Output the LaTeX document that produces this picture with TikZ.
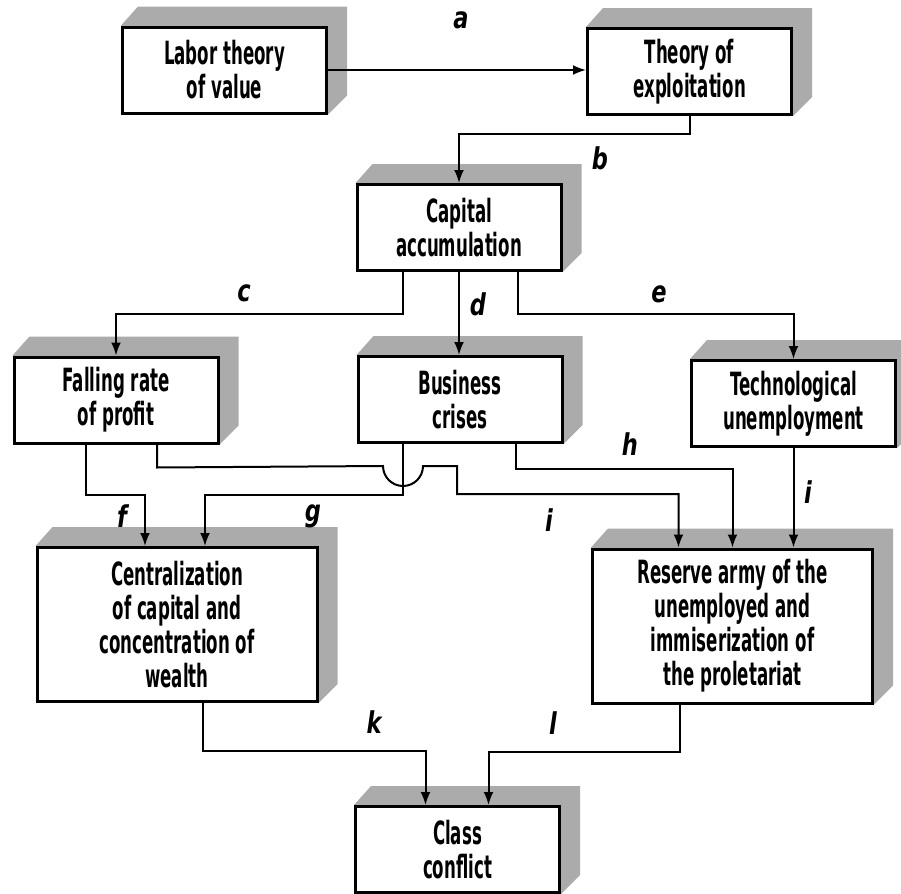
\documentclass[tikz,border=0pt]{standalone}
\usepackage{fontspec}
\newfontfamily\boxfont{DejaVu Sans}[FakeStretch=0.52]
\newfontfamily\labfont{DejaVu Sans}[FakeStretch=0.75]
\usetikzlibrary{backgrounds,arrows.meta}

\begin{document}
\begin{tikzpicture}[x=0.5pt,y=-0.5pt]

      \tikzset{box/.style={draw, rectangle, fill=white, line width=1.5pt, minimum width=102pt, minimum height=43pt, inner sep=2pt, align=center, font=\boxfont\bfseries\fontsize{16}{17}\selectfont},
               bigbox/.style={box, minimum width=140pt, minimum height=77pt},
               slab/.style={fill=black!33},
               arr/.style={->, >={Latex[length=6.5pt,width=5pt]}, line width=1pt},
               lab/.style={font=\labfont\bfseries\itshape\fontsize{15}{15}\selectfont}}
      \clip (0,0) rectangle (901,894);
%% Boxes
      	\node[box] (labor) at (224.5,70) {Labor theory\\of value};
      	\node[box] (theory) at (689.5,71.5) {Theory of\\exploitation};
      	\node[box] (capital) at (459,227.5) {Capital\\accumulation};
      	\node[box] (falling) at (116,400) {Falling rate\\of profit};
      	\node[box] (business) at (460,399.5) {Business\\crises};
      	\node[box] (tech) at (793.5,403.5) {Technological\\unemployment};
      	\node[bigbox] (central) at (177,624.5) {Centralization\\of capital and\\concentration of\\wealth};
      	\node[bigbox] (reserve) at (732.5,626) {Reserve army of the\\unemployed and\\immiserization of\\the proletariat};
      	\node[box] (class) at (457.5,849.5) {Class\\conflict};
%Shading
      \begin{scope}[on background layer]
		\foreach \n in {labor,theory,capital,falling,business,tech,central,reserve,class}
		  \fill[slab] (\n.north west) -- ++(17,-19) -- ([shift={(19,-19)}]\n.north east) -- ([shift={(19,-19)}]\n.south east) -- (\n.south east) -- cycle;
      \end{scope}
%Arrows
		\draw[arr] (labor.east) -- (labor.east -| theory.west);
		\draw[arr] (theory.south) -- ++(0,18) -| (capital.north);
		\draw[arr] ([shift={(-56,0)}]capital.south) -- ++(0,42) -| (falling.north);
		\draw[arr] (capital.south) -- (capital.south |- business.north);
		\draw[arr] ([shift={(59,0)}]capital.south) -- ++(0,42) -| (tech.north);
		\draw[arr] ([shift={(-30,0)}]falling.south) -- ++(0,50) -| ([shift={(-32,0)}]central.north);
		\draw[arr] ([shift={(-57,0)}]business.south) -- ++(0,51) -| ([shift={(28,0)}]central.north);
		\draw[arr] ([shift={(41,0)}]falling.south) -- ++(0,23) -- (383,466) arc[start angle=180, end angle=0, radius=20] -- (457,466) -- (457,494) -| ([shift={(-54,0)}]reserve.north);
		\draw[arr] ([shift={(56,0)}]business.south) -- ++(0,25) -| (reserve.north);
		\draw[arr] (tech.south) -- (tech.south |- reserve.north);
		\draw[arr] ([shift={(26,0)}]central.south) -- ++(0,48) -| ([shift={(-32,0)}]class.north);
		\draw[arr] ([shift={(-53,0)}]reserve.south) -- ++(0,47) -| ([shift={(31,0)}]class.north);
%Labels
		\node[lab] (la) at (461,20) {a};
		\node[lab] (lb) at (600,158) {b};
		\node[lab] (lc) at (244,293) {c};
		\node[lab] (ld) at (478,304) {d};
		\node[lab] (le) at (659,294) {e};
		\node[lab] (lf) at (122,516) {f};
		\node[lab] (lg) at (313,516) {g};
		\node[lab] (lh) at (630,444) {h};
		\node[lab] (li) at (549,520) {i};
		\node[lab] (lj) at (808,492) {i};
		\node[lab] (lk) at (374,722) {k};
		\node[lab] (ll) at (553,723) {l};

\end{tikzpicture}
\end{document}
